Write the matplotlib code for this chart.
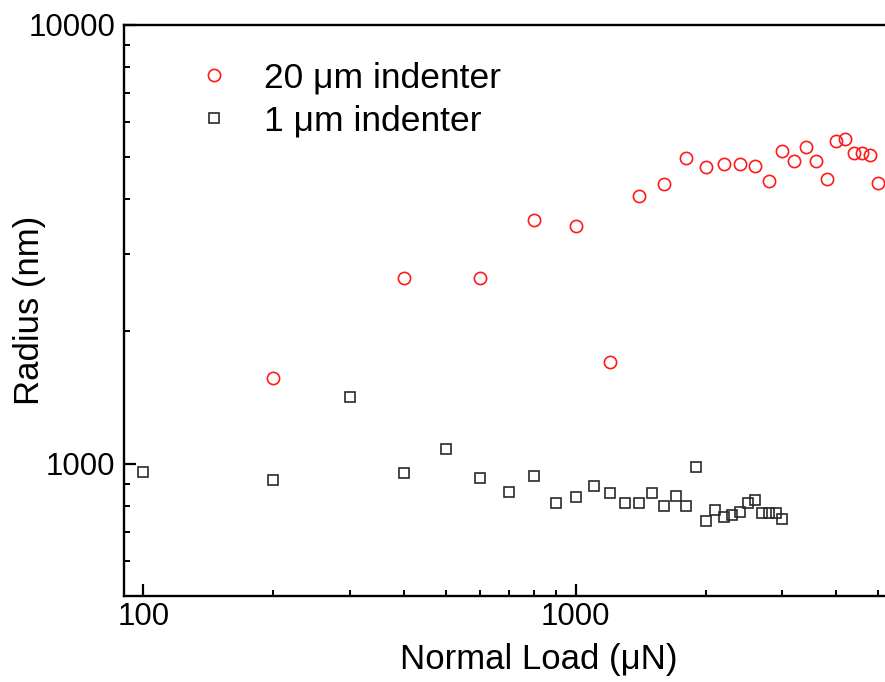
import matplotlib
matplotlib.use("Agg")
import matplotlib.pyplot as plt
from matplotlib.ticker import LogLocator, NullFormatter, FixedLocator, FixedFormatter

plt.rcParams['font.family'] = ['Liberation Sans', 'DejaVu Sans']

# 20 um indenter (circles)
load_20 = [200, 400, 600, 800, 1000, 1200, 1400, 1600, 1800, 2000, 2200, 2400, 2600,
           2800, 3000, 3200, 3400, 3600, 3800, 4000, 4200, 4400, 4600, 4800, 5000]
radius_20 = [1565, 2640, 2640, 3585, 3480, 1700, 4070, 4340, 4955, 4745, 4800, 4814, 4750,
             4410, 5155, 4886, 5255, 4886, 4446, 5442, 5480, 5090, 5100, 5050, 4346]

# 1 um indenter (squares)
load_1 = [100, 200, 300, 400, 500, 600, 700, 800, 900, 1000, 1100, 1200, 1300, 1400, 1500,
          1600, 1700, 1800, 1900, 2000, 2100, 2200, 2300, 2400, 2500, 2600, 2700, 2800,
          2900, 3000]
radius_1 = [958, 917, 1420, 950, 1080, 925, 863, 938, 814, 839, 890, 855, 811, 814, 859,
            802, 845, 802, 983, 739, 784, 756, 762, 777, 815, 825, 770, 770, 770, 747]

W, H = 885, 682
fig = plt.figure(figsize=(W / 100, H / 100), dpi=100)
ax = fig.add_axes([123.5 / W, 1 - 595.7 / H, 765.6 / W, 571.2 / H])

ax.plot(load_20, radius_20, 'o', ms=8.8, mfc='none', mec='#ff1a1a', mew=1.2,
        label='20 μm indenter')
ax.plot(load_1, radius_1, 's', ms=7.6, mfc='none', mec='#2a2a2a', mew=1.2,
        label='1 μm indenter')

ax.set_xscale('log')
ax.set_yscale('log')
ax.set_xlim(90, 5300)
ax.set_ylim(500, 10000)

ax.xaxis.set_major_locator(FixedLocator([100, 1000]))
ax.xaxis.set_major_formatter(FixedFormatter(['100', '1000']))
ax.xaxis.set_minor_locator(LogLocator(base=10, subs=range(2, 10)))
ax.xaxis.set_minor_formatter(NullFormatter())
ax.yaxis.set_major_locator(FixedLocator([1000, 10000]))
ax.yaxis.set_major_formatter(FixedFormatter(['1000', '10000']))
ax.yaxis.set_minor_locator(LogLocator(base=10, subs=range(2, 10)))
ax.yaxis.set_minor_formatter(NullFormatter())

ax.tick_params(which='both', direction='in', top=False, right=False, labelsize=22.5)
ax.tick_params(which='major', length=8.6, width=1.6)
ax.tick_params(which='minor', length=4.5, width=1.4)
ax.tick_params(axis='x', pad=4.5)
ax.tick_params(axis='y', pad=6)

for s in ['left', 'bottom', 'top']:
    ax.spines[s].set_linewidth(1.7)
ax.spines['right'].set_visible(False)

ax.set_xlabel('Normal Load (μN)', fontsize=25)
ax.set_ylabel('Radius (nm)', fontsize=25)
ax.xaxis.label.set_va('baseline')
ax.xaxis.set_label_coords(0.5418, -0.1289)
ax.yaxis.label.set_va('baseline')
ax.yaxis.set_label_coords(-0.110, 0.5)

ax.legend(loc='upper left', bbox_to_anchor=(0.0716, 0.935), frameon=False,
          fontsize=25.5, handlelength=2.0, handletextpad=0.42, borderpad=0,
          borderaxespad=0, labelspacing=0.27, numpoints=1)

fig.savefig('out.png', dpi=100)
